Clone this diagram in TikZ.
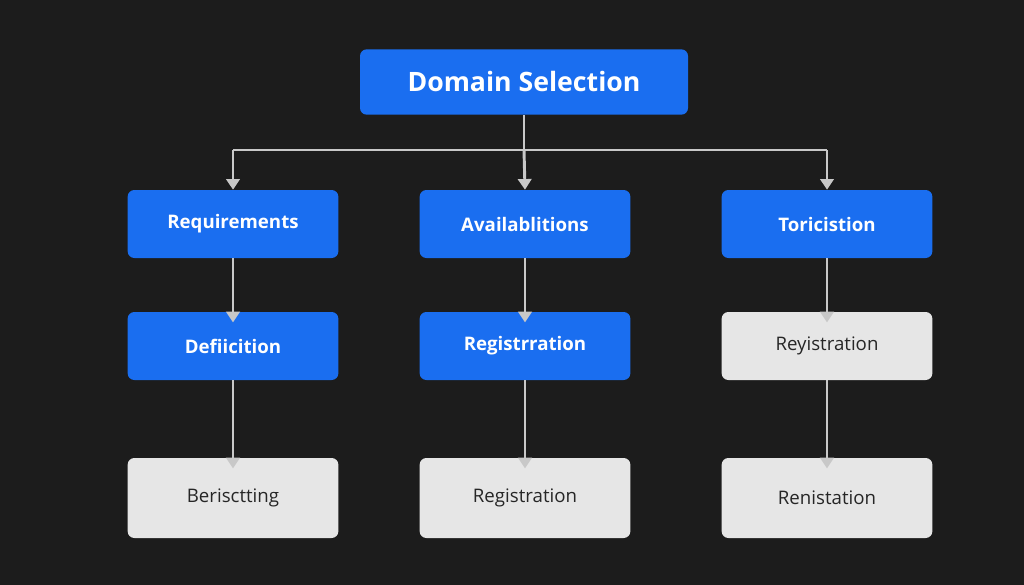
\documentclass[tikz,border=0pt]{standalone}
\usepackage{fontspec}
\setmainfont{Open Sans}
\usetikzlibrary{arrows.meta}
\definecolor{bg}{HTML}{1C1C1C}
\definecolor{blu}{HTML}{1A6EF0}
\definecolor{gry}{HTML}{E6E6E6}
\definecolor{lin}{HTML}{C8C8C8}
\tikzset{
  x=0.75pt,y=-0.75pt,
  box/.style={rounded corners=5pt,minimum width=158pt,minimum height=51pt,font=\fontsize{14}{16}\selectfont\bfseries,inner sep=0pt},
  bbox/.style={box,fill=blu,text=white},
  gbox/.style={box,fill=gry,text=black!85,font=\fontsize{14}{16}\selectfont,minimum height=60pt},
  con/.style={draw=lin,line width=2.2pt,-{Triangle[length=8pt,width=10pt]}}
}
\begin{document}
\begin{tikzpicture}
\fill[bg] (0,0) rectangle (1024,585);
\useasboundingbox (0,0) rectangle (1024,585);
\node[bbox,minimum width=246pt,minimum height=49pt,font=\fontsize{20}{24}\selectfont\bfseries] (top) at (524,82) {Domain Selection};
\node[bbox] (a1) at (233,224) {Requirements};
\node[bbox] (b1) at (525,224) {Availablitions};
\node[bbox] (c1) at (827,224) {Toricistion};
\node[bbox] (a2) at (233,346) {Defiicition};
\node[bbox] (b2) at (525,346) {Registrration};
\node[gbox,minimum height=51pt] (c2) at (827,346) {Reyistration};
\node[gbox] (a3) at (233,498) {Berisctting};
\node[gbox] (b3) at (525,498) {Registration};
\node[gbox] (c3) at (827,498) {Renistation};
\coordinate (j) at (524,150);
\draw[draw=lin,line width=2.2pt] (top.south) -- (j);
\draw[draw=lin,line width=2.2pt] (233,150) -- (827,150);
\draw[con] (233,150) -- (a1.north);
\draw[con] (j) -- (b1.north);
\draw[con] (827,150) -- (c1.north);
\foreach \p/\q in {a1/a2,b1/b2,c1/c2,a2/a3,b2/b3,c2/c3}
  \draw[con] (\p.south) -- ([yshift=-8pt]\q.north);
\end{tikzpicture}
\end{document}
